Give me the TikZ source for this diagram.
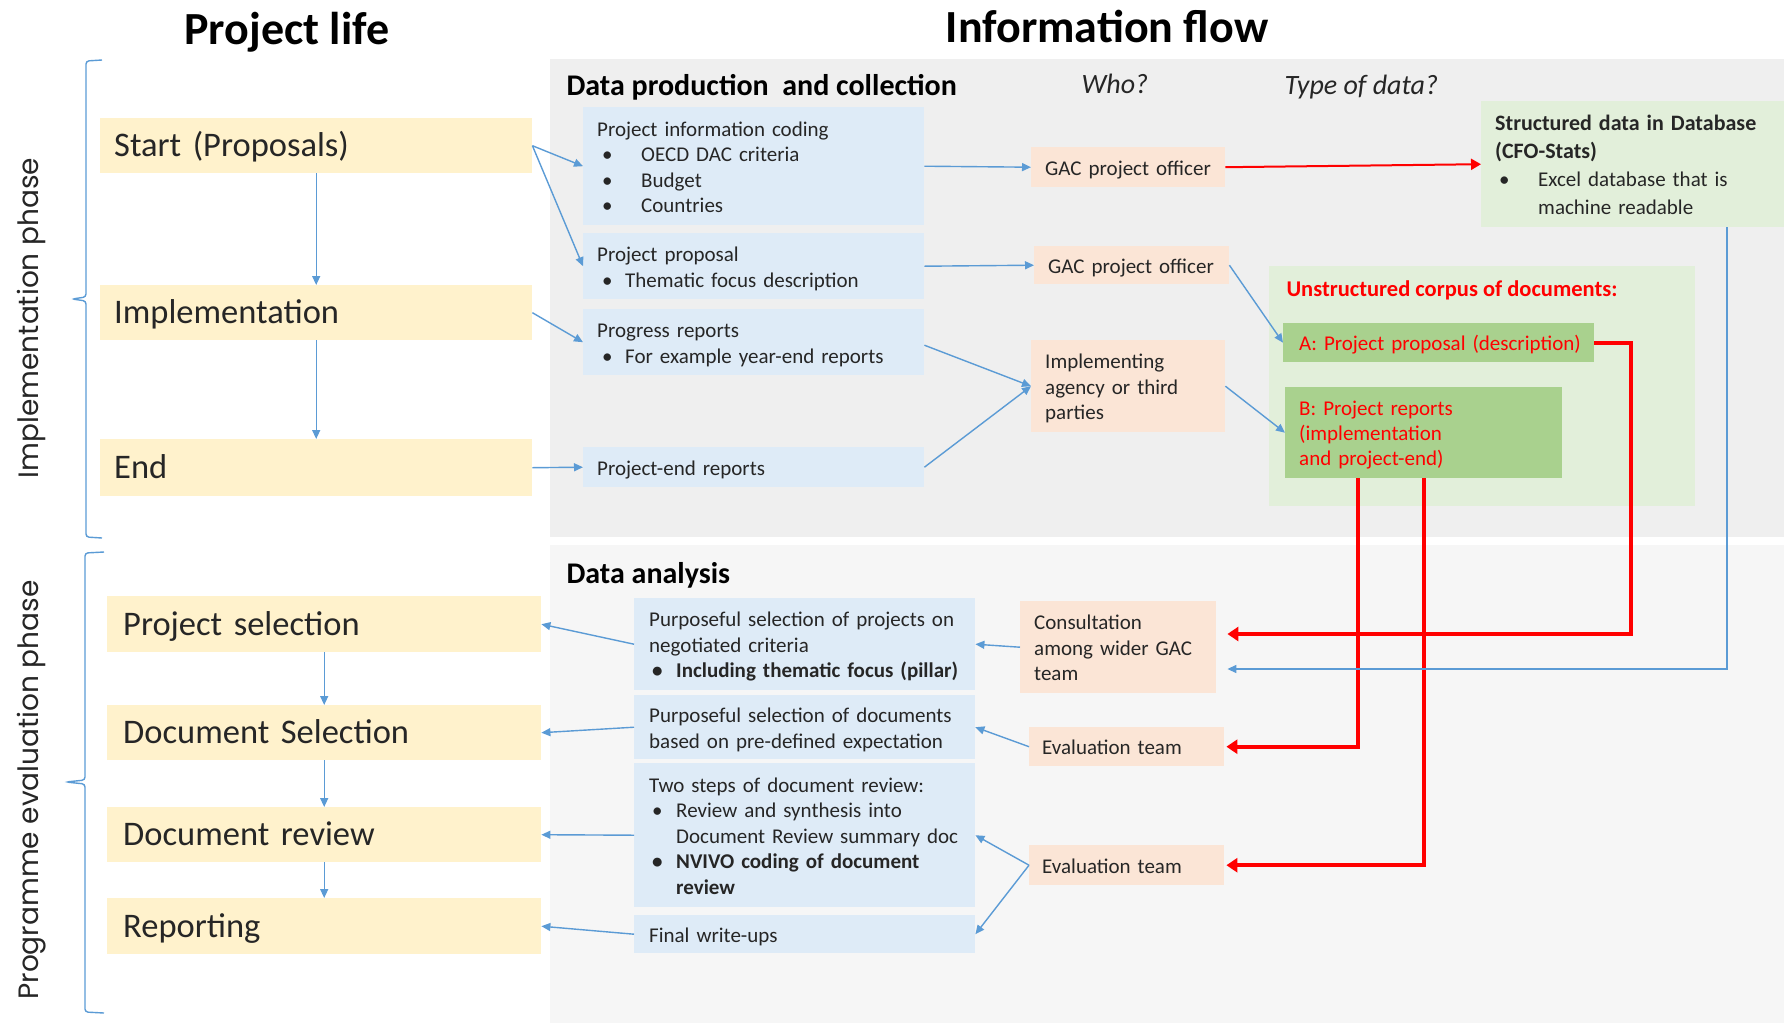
\documentclass[tikz,border=0pt]{standalone}
\usepackage{fontspec}
\setmainfont{Carlito}
\newfontfamily\gothic{Poppins}
\usetikzlibrary{arrows.meta}
\definecolor{yel}{HTML}{FFF2CC}
\definecolor{blu}{HTML}{DEEBF7}
\definecolor{ora}{HTML}{FBE5D6}
\definecolor{grnl}{HTML}{E2EFDA}
\definecolor{grnm}{HTML}{A9D18E}
\definecolor{arr}{HTML}{5B9BD5}
\definecolor{grayA}{HTML}{EFEFEF}
\definecolor{grayB}{HTML}{F6F6F6}
\definecolor{txt}{HTML}{262626}
\newcommand{\bulx}[2]{\makebox[#1][l]{\hspace{#2}\textbullet}}
\newcommand{\boxlines}[1]{\raisebox{-3pt}[\height][\depth]{\begin{tabular}{@{}l@{}}#1\end{tabular}}}
\begin{document}
\begin{tikzpicture}[x=1pt,y=-1pt,
  basebox/.style={inner ysep=0pt, align=left, anchor=north west, text=txt,
    font=\fontsize{21}{25.5}\selectfont},
  yelbox/.style={basebox, fill=yel, minimum height=#1, font=\fontsize{34.5}{40}\selectfont},
  blubox/.style={basebox, fill=blu, minimum height=#1, inner xsep=14pt, text width=313pt},
  lblubox/.style={basebox, fill=blu, minimum height=#1, inner xsep=15pt, text width=311pt},
  orabox/.style={basebox, fill=ora, minimum height=#1},
  grnbox/.style={basebox, fill=grnm, minimum height=#1, text=red},
  barrow/.style={draw=arr, line width=1.4pt, -{Triangle[length=9pt,width=8pt]}},
  rarrow/.style={draw=red, line width=4pt, -{Triangle[length=11pt,width=14pt]}},
  brace/.style={draw=arr, line width=1.4pt, rounded corners=3pt},
  heading/.style={anchor=base west, font=\fontsize{30}{34}\selectfont\bfseries, text=black},
  qhead/.style={anchor=base west, font=\fontsize{28}{32}\selectfont\itshape, text=txt},
  side/.style={anchor=base, rotate=90, font=\gothic\fontsize{28}{32}\selectfont, text=txt}
]
\useasboundingbox (0,0) rectangle (1784,1023);
% panels
\fill[grayA] (550,59) rectangle (1784,537);
\fill[grayB] (550,545) rectangle (1784,1023);

% titles
\node[anchor=base, font=\fontsize{46}{52}\selectfont\bfseries] (tpl) at (287,44) {Project life};
\node[anchor=base, font=\fontsize{46}{52}\selectfont\bfseries] (tif) at (1107,42) {Information flow};

% side labels and braces
\node[side] (implph) at (38,318) {Implementation phase};
\node[side] (progph) at (38,790) {Programme evaluation phase};
\draw[brace] (102,60) -- (86,61) -- (86,297) -- (72,299) -- (86,301) -- (86,537) -- (102,538);
\draw[brace] (104,552) -- (85,553) -- (85,780) -- (66,782) -- (85,784) -- (85,1012) -- (104,1013);

% headings
\node[heading] (hdp) at (563,95) {Data production \ and collection};
\node[qhead] (hwho) at (1078,93) {Who?};
\node[qhead] (htype) at (1281,94) {Type of data?};
\node[heading] (hda) at (563,583) {Data analysis};

% project life (upper)
\node[yelbox=55pt, inner xsep=14pt, text width=404pt] (start) at (100,118) {\boxlines{Start (Proposals)}};
\node[yelbox=55pt, inner xsep=14pt, text width=404pt] (impl) at (100,285) {\boxlines{Implementation}};
\node[yelbox=57pt, inner xsep=14pt, text width=404pt] (endb) at (100,439) {\boxlines{End}};

% upper blue boxes
\node[blubox=118pt] (pic) at (583,107) {\boxlines{Project information coding\\
  \bulx{44pt}{5pt}OECD DAC criteria\\
  \bulx{44pt}{5pt}Budget\\
  \bulx{44pt}{5pt}Countries}};
\node[blubox=66pt] (ppr) at (583,233) {\boxlines{Project proposal\\
  \bulx{28pt}{5pt}Thematic focus description}};
\node[blubox=66pt] (prg) at (583,309) {\boxlines{Progress reports\\
  \bulx{28pt}{5pt}For example year-end reports}};
\node[blubox=40pt] (per) at (583,447) {\boxlines{Project-end reports}};

% who boxes
\node[orabox=40pt, inner xsep=14pt, text width=166pt] (gac1) at (1031,147) {\boxlines{GAC project officer}};
\node[orabox=38pt, inner xsep=14pt, text width=167pt] (gac2) at (1034,246) {\boxlines{GAC project officer}};
\node[orabox=92pt, inner xsep=14pt, text width=166pt] (agency) at (1031,340) {\boxlines{Implementing\\agency or third\\parties}};

% structured data
\node[basebox, fill=grnl, minimum height=126pt, inner xsep=14pt, text width=275pt,
  font=\fontsize{21}{28}\selectfont] (struct) at (1481,101)
  {\boxlines{{\bfseries\fontsize{22}{28}\selectfont Structured data in Database}\\{\bfseries\fontsize{22}{28}\selectfont (CFO-Stats)}\\
   \bulx{43pt}{4pt}Excel database that is\\\hspace*{43pt}machine readable}};

% unstructured corpus
\node[basebox, fill=grnl, minimum width=426pt, minimum height=240pt] (corpus) at (1269,266) {};
\node[anchor=base west, text=red, font=\fontsize{22.5}{26}\selectfont\bfseries] (ctitle) at (1283,296) {Unstructured corpus of documents:};
\node[grnbox=39pt, inner xsep=16pt, text width=279pt] (pa) at (1283,323) {\boxlines{A: Project proposal (description)}};
\node[grnbox=91pt, inner xsep=14pt, text width=249pt, font=\fontsize{21}{25}\selectfont] (pb) at (1285,387) {\boxlines{B: Project reports\\(implementation\\and project-end)}};

% lower project life
\node[yelbox=56pt, inner xsep=16pt, text width=402pt] (psel) at (107,596) {\boxlines{Project selection}};
\node[yelbox=55pt, inner xsep=16pt, text width=402pt] (dsel) at (107,705) {\boxlines{Document Selection}};
\node[yelbox=55pt, inner xsep=16pt, text width=402pt] (drev) at (107,807) {\boxlines{Document review}};
\node[yelbox=56pt, inner xsep=16pt, text width=402pt] (rep) at (107,898) {\boxlines{Reporting}};

% lower blue boxes
\node[lblubox=92pt] (lb1) at (634,598) {\boxlines{Purposeful selection of projects on\\negotiated criteria\\
  {\bfseries\bulx{27pt}{3pt}Including thematic focus (pillar)}}};
\node[lblubox=64pt] (lb2) at (634,695) {\boxlines{Purposeful selection of documents\\based on pre-defined expectation}};
\node[lblubox=144pt] (lb3) at (634,763) {\boxlines{Two steps of document review:\\
  \bulx{27pt}{3pt}Review and synthesis into\\
  \hspace*{27pt}Document Review summary doc\\
  {\bfseries\bulx{27pt}{3pt}NVIVO coding of document}\\
  \hspace*{27pt}{\bfseries review}}};
\node[lblubox=38pt] (lb4) at (634,915) {\boxlines{Final write-ups}};

% lower who boxes
\node[orabox=92pt, inner xsep=14pt, text width=168pt] (cons) at (1020,601) {\boxlines{Consultation\\among wider GAC\\team}};
\node[orabox=39pt, inner xsep=13pt, text width=169pt] (ev1) at (1029,727) {\boxlines{Evaluation team}};
\node[orabox=40pt, inner xsep=13pt, text width=169pt] (ev2) at (1029,845) {\boxlines{Evaluation team}};

% vertical flow arrows
\draw[barrow] (start.south) -- (impl.north);
\draw[barrow] (impl.south) -- (endb.north);
\draw[barrow] (psel.south) -- (dsel.north);
\draw[barrow] (dsel.south) -- (drev.north);
\draw[barrow] (drev.south) -- (rep.north);

% upper arrows
\draw[barrow] (start.east) -- (pic.west);
\draw[barrow] (start.east) -- (ppr.west);
\draw[barrow] (impl.east) -- (prg.west);
\draw[barrow] (endb.east) -- (per.west);
\draw[barrow] (pic.east) -- (gac1.west);
\draw[barrow] (ppr.east) -- (gac2.west);
\draw[barrow] ([yshift=-3pt]prg.east) -- (agency.west);
\draw[barrow] (per.east) -- (agency.west);
\draw[barrow] (gac2.east) -- (pa.west);
\draw[barrow] (agency.east) -- (pb.west);
\draw[draw=red, line width=2pt, -{Triangle[length=10pt,width=11pt]}] (gac1.east) -- (struct.west);

% red feedback arrows
\coordinate (ra) at (1631,634);
\draw[rarrow] (pa.east) -| (ra) -- ([xshift=11pt]ra -| cons.east);
\draw[rarrow] ([xshift=-66pt]pb.south) |- ([xshift=2pt]ev1.east);
\draw[rarrow] (pb.south) |- ([xshift=2pt]ev2.east);
\coordinate (sb) at (1727,669);
\draw[barrow] (struct.south -| sb) -- (sb) -- ([xshift=11pt]sb -| cons.east);

% lower arrows
\draw[barrow] (cons.west) -- (lb1.east);
\draw[barrow] (ev1.west) -- (lb2.east);
\draw[barrow] (ev2.west) -- (lb3.east);
\draw[barrow] (ev2.west) -- (lb4.east);
\draw[barrow] (lb1.west) -- (psel.east);
\draw[barrow] (lb2.west) -- (dsel.east);
\draw[barrow] (lb3.west) -- (drev.east);
\draw[barrow] (lb4.west) -- (rep.east);
\end{tikzpicture}
\end{document}
